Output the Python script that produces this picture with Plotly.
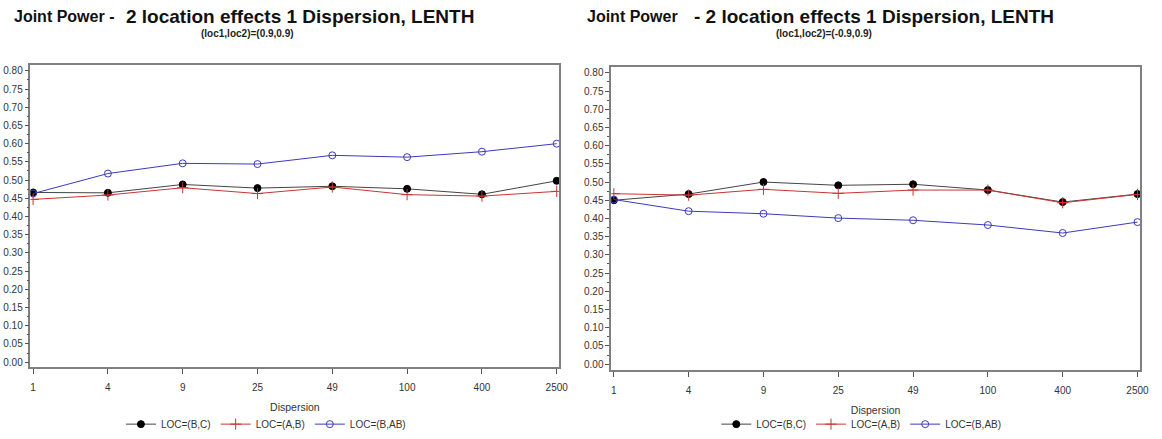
import plotly.graph_objects as go

# ---- data ----
dispersion = ["1", "4", "9", "25", "49", "100", "400", "2500"]
series_names = ["LOC=(B,C)", "LOC=(A,B)", "LOC=(B,AB)"]

left_bc = [0.466, 0.465, 0.488, 0.478, 0.483, 0.476, 0.461, 0.498]
left_ab = [0.447, 0.459, 0.479, 0.463, 0.481, 0.460, 0.456, 0.469]
left_bab = [0.463, 0.518, 0.546, 0.544, 0.568, 0.563, 0.578, 0.600]

right_bc = [0.450, 0.467, 0.500, 0.491, 0.494, 0.478, 0.445, 0.467]
right_ab = [0.468, 0.464, 0.480, 0.469, 0.478, 0.478, 0.443, 0.466]
right_bab = [0.452, 0.420, 0.413, 0.401, 0.395, 0.382, 0.360, 0.390]

W, H = 1162, 439
FONT = "Arial, 'Liberation Sans', sans-serif"


def px(x):
    return x / W


def py(y):
    return 1 - y / H


styles = [
    dict(line=dict(color="#444444", width=1),
         marker=dict(symbol="circle", size=7, color="#000000",
                     line=dict(color="#000000", width=1))),
    dict(line=dict(color="#cc3333", width=1),
         marker=dict(symbol="cross-thin", size=8, color="#cc3333",
                     line=dict(color="#cc3333", width=1))),
    dict(line=dict(color="#3b3bbb", width=1),
         marker=dict(symbol="circle-open", size=7, color="#3b3bbb",
                     line=dict(color="#3b3bbb", width=1))),
]

fig = go.Figure()

for vals, name, st in zip([left_bc, left_ab, left_bab], series_names, styles):
    fig.add_trace(go.Scatter(x=dispersion, y=vals, name=name, mode="lines+markers",
                             xaxis="x", yaxis="y", legend="legend", **st))
for vals, name, st in zip([right_bc, right_ab, right_bab], series_names, styles):
    fig.add_trace(go.Scatter(x=dispersion, y=vals, name=name, mode="lines+markers",
                             xaxis="x2", yaxis="y2", legend="legend2", **st))

axis_common = dict(
    showline=True, linecolor="#808080", linewidth=1.5, mirror=True,
    showgrid=False, zeroline=False, ticks="outside", tickcolor="#555555",
    tickfont=dict(family=FONT, size=10, color="#333333"),
)

xcommon = dict(axis_common, type="category", categoryorder="array",
               categoryarray=dispersion, ticklen=5, tickwidth=1,
               range=[-0.035, 7.035], ticklabelstandoff=5,
               title=dict(text="Dispersion", font=dict(family=FONT, size=10.5, color="#333333"),
                          standoff=12))
ycommon = dict(axis_common, tickformat=".2f", dtick=0.05, tick0=0, ticklen=4, tickwidth=1,
               minor=dict(dtick=0.025, ticklen=2, tickcolor="#555555", showgrid=False, ticks="outside"))

fig.update_layout(
    width=W, height=H,
    margin=dict(l=0, r=0, t=0, b=0),
    paper_bgcolor="white", plot_bgcolor="white",
    xaxis=dict(xcommon, domain=[px(30.7), px(563.7)], anchor="y"),
    yaxis=dict(ycommon, domain=[py(373), py(66.5)], range=[-0.0135, 0.8149], anchor="x"),
    xaxis2=dict(xcommon, domain=[px(616), px(1149)], anchor="y2"),
    yaxis2=dict(ycommon, domain=[py(376), py(68)], range=[-0.0162, 0.8162], anchor="x2"),
    legend=dict(orientation="h", x=px(268), xanchor="center", y=py(431), yanchor="middle",
                font=dict(family=FONT, size=10, color="#333333"), bgcolor="rgba(0,0,0,0)"),
    legend2=dict(orientation="h", x=px(868), xanchor="center", y=py(431), yanchor="middle",
                 font=dict(family=FONT, size=10, color="#333333"), bgcolor="rgba(0,0,0,0)"),
    showlegend=True,
)

title_font_small = dict(family=FONT, size=16, color="#111111")
title_font_big = dict(family=FONT, size=19, color="#111111")
sub_font = dict(family=FONT, size=10, color="#222222")

annotations = [
    dict(text="<b>Joint Power -</b>", x=px(12), y=py(17), xanchor="left", yanchor="middle",
         font=title_font_small),
    dict(text="<b>2 location effects 1 Dispersion, LENTH</b>", x=px(125), y=py(17),
         xanchor="left", yanchor="middle", font=title_font_big),
    dict(text="<b>(loc1,loc2)=(0.9,0.9)</b>", x=px(249), y=py(34), xanchor="center",
         yanchor="middle", font=sub_font),
    dict(text="<b>Joint Power</b>", x=px(590), y=py(17), xanchor="left", yanchor="middle",
         font=title_font_small),
    dict(text="<b>- 2 location effects 1 Dispersion, LENTH</b>", x=px(697), y=py(17),
         xanchor="left", yanchor="middle", font=title_font_big),
    dict(text="<b>(loc1,loc2)=(-0.9,0.9)</b>", x=px(830), y=py(34), xanchor="center",
         yanchor="middle", font=sub_font),
]
for a in annotations:
    a.update(xref="paper", yref="paper", showarrow=False)
fig.update_layout(annotations=annotations)

fig.write_html("out.html")
